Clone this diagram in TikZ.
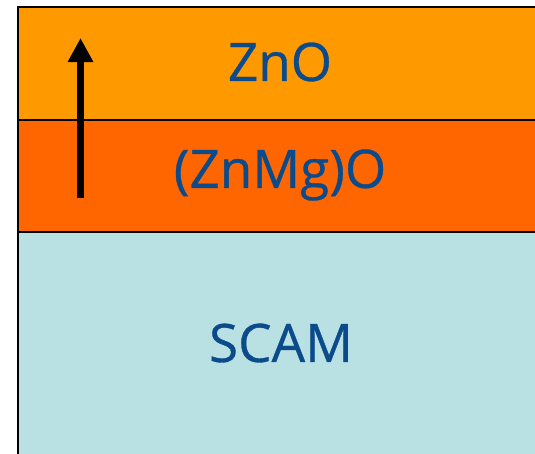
\documentclass[tikz,border=0pt]{standalone}
\usepackage{fontspec}
\setmainfont{Open Sans}
\newfontfamily\labelfont[FakeBold=0.6]{Open Sans}
\usetikzlibrary{arrows.meta}
\definecolor{znoorange}{HTML}{FF9900}
\definecolor{mgorange}{HTML}{FF6600}
\definecolor{scamblue}{HTML}{B9E0E3}
\definecolor{labelblue}{HTML}{0B4A8B}
\tikzset{
  layer/.style={draw=black, line width=1.6pt, inner sep=0pt, anchor=north west},
  layertext/.style={text=labelblue, font=\labelfont\fontsize{53}{60}\selectfont},
}
\begin{document}
\begin{tikzpicture}[x=1pt, y=-1pt]
\useasboundingbox (0,0) rectangle (535,453);
\clip (0,0) rectangle (535,453);
% stack of layers, running past the right and bottom edges
\node[layer, fill=znoorange, minimum width=540pt, minimum height=113pt] (zno) at (17,6) {};
\node[layer, fill=mgorange, minimum width=540pt, minimum height=112pt] (znmgo) at (17,119) {};
\node[layer, fill=scamblue, minimum width=540pt, minimum height=240pt] (scam) at (17,231) {};
% labels
\node[layertext] (lzno) at (280,62) {ZnO};
\node[layertext] (lznmgo) at (280,175) {(ZnMg)O};
\node[layertext] (lscam) at (281,343) {SCAM};
% polarisation arrow
\coordinate (arrowfoot) at (80.5,198);
\coordinate (arrowtip) at (80.5,38);
\draw[line width=7pt, -{Triangle[length=24pt, width=24pt]}] (arrowfoot) -- (arrowtip);
\end{tikzpicture}
\end{document}
